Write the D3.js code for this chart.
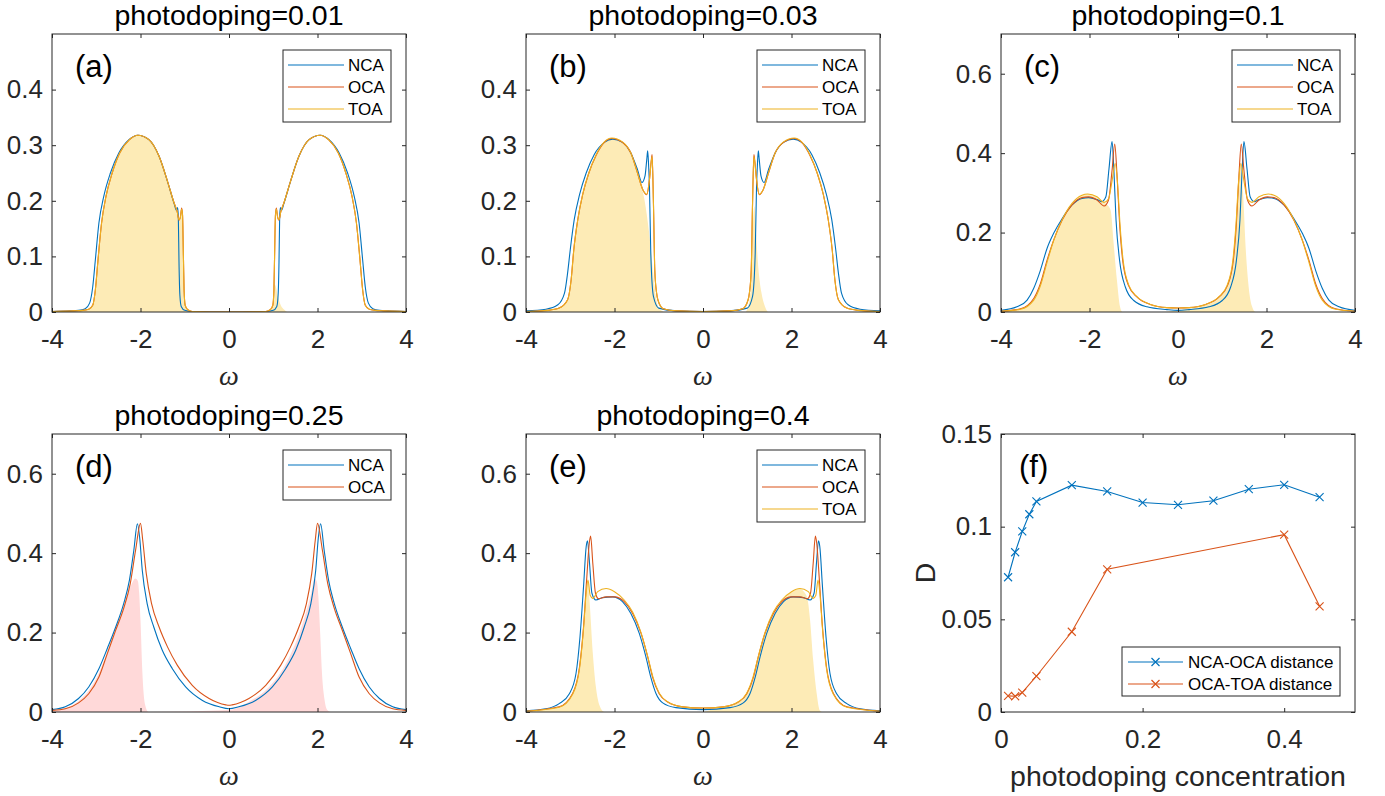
<!DOCTYPE html>
<html>
<head>
<meta charset="utf-8">
<script src="https://cdn.jsdelivr.net/npm/d3@7"></script>
<style>
  body { margin: 0; background: #fff; }
  svg { display: block; font-family: "Liberation Sans", Arial, sans-serif; }
</style>
</head>
<body>
<svg id="fig" width="1385" height="796"></svg>
<script>
// ---- data ----
const titles = ['photodoping=0.01', 'photodoping=0.03', 'photodoping=0.1',
  'photodoping=0.25', 'photodoping=0.4', ''];
const panelTags = ['(a)', '(b)', '(c)', '(d)', '(e)', '(f)'];
const seriesNames = ['NCA', 'OCA', 'TOA'];
const distNames = ['NCA-OCA distance', 'OCA-TOA distance'];

const omegaTicks = [-4, -2, 0, 2, 4];
const omegaLabels = ['-4', '-2', '0', '2', '4'];
const lowTicks = [0, 0.1, 0.2, 0.3, 0.4];
const lowLabels = ['0', '0.1', '0.2', '0.3', '0.4'];
const highTicks = [0, 0.2, 0.4, 0.6];
const highLabels = ['0', '0.2', '0.4', '0.6'];
const dopTicks = [0, 0.2, 0.4];
const dopLabels = ['0', '0.2', '0.4'];
const distTicks = [0, 0.05, 0.1, 0.15];
const distLabels = ['0', '0.05', '0.1', '0.15'];

// (a) photodoping 0.01 : [omega, A]
const ncaA = [[-4,0.001],[-3.6,0.002],[-3.4,0.003],[-3.25,0.006],[-3.15,0.016],[-3.08,0.045],[-3.02,0.094],[-2.94,0.16],[-2.83,0.208],[-2.68,0.25],[-2.49,0.286],[-2.26,0.31],[-2.06,0.318],[-1.81,0.31],[-1.58,0.28],[-1.39,0.235],[-1.24,0.195],[-1.19,0.183],[-1.16,0.188],[-1.145,0.17],[-1.13,0.09],[-1.11,0.03],[-1.08,0.01],[-1.0,0.003],[-0.85,0.001],[0,0],
  [0.85,0.001],[1.0,0.003],[1.08,0.01],[1.11,0.03],[1.13,0.09],[1.145,0.17],[1.16,0.188],[1.19,0.183],[1.24,0.195],[1.39,0.235],[1.58,0.28],[1.81,0.31],[2.06,0.318],[2.26,0.31],[2.49,0.286],[2.68,0.25],[2.83,0.208],[2.94,0.16],[3.02,0.094],[3.08,0.045],[3.15,0.016],[3.25,0.006],[3.4,0.003],[3.6,0.002],[4,0.001]];
const ocaA = [[-4,0.001],[-3.5,0.002],[-3.3,0.003],[-3.17,0.005],[-3.08,0.012],[-3.02,0.04],[-2.96,0.094],[-2.88,0.16],[-2.78,0.208],[-2.64,0.25],[-2.47,0.286],[-2.25,0.31],[-2.06,0.318],[-1.81,0.31],[-1.58,0.28],[-1.39,0.235],[-1.24,0.196],[-1.17,0.18],[-1.13,0.165],[-1.1,0.17],[-1.07,0.187],[-1.05,0.175],[-1.03,0.1],[-1.015,0.04],[-0.99,0.012],[-0.93,0.004],[-0.83,0.001],[0,0],
  [0.83,0.001],[0.93,0.004],[0.99,0.012],[1.015,0.04],[1.03,0.1],[1.05,0.175],[1.07,0.187],[1.1,0.17],[1.13,0.165],[1.17,0.18],[1.24,0.196],[1.39,0.235],[1.58,0.28],[1.81,0.31],[2.06,0.318],[2.25,0.31],[2.47,0.286],[2.64,0.25],[2.78,0.208],[2.88,0.16],[2.96,0.094],[3.02,0.04],[3.08,0.012],[3.17,0.005],[3.3,0.003],[3.5,0.002],[4,0.001]];
const toaA = [[-4,0.001],[-3.5,0.002],[-3.3,0.003],[-3.17,0.005],[-3.08,0.012],[-3.02,0.04],[-2.96,0.094],[-2.88,0.16],[-2.78,0.208],[-2.64,0.25],[-2.47,0.286],[-2.25,0.31],[-2.06,0.318],[-1.81,0.31],[-1.58,0.28],[-1.39,0.235],[-1.24,0.196],[-1.17,0.18],[-1.13,0.166],[-1.1,0.17],[-1.07,0.185],[-1.05,0.174],[-1.03,0.1],[-1.015,0.04],[-0.99,0.012],[-0.93,0.004],[-0.83,0.001],[0,0],
  [0.83,0.001],[0.93,0.004],[0.99,0.012],[1.015,0.04],[1.03,0.1],[1.05,0.174],[1.07,0.185],[1.1,0.17],[1.13,0.166],[1.17,0.18],[1.24,0.196],[1.39,0.235],[1.58,0.28],[1.81,0.31],[2.06,0.318],[2.25,0.31],[2.47,0.286],[2.64,0.25],[2.78,0.208],[2.88,0.16],[2.96,0.094],[3.02,0.04],[3.08,0.012],[3.17,0.005],[3.3,0.003],[3.5,0.002],[4,0.001]];
const occA = [[-4,0.001],[-3.5,0.002],[-3.3,0.003],[-3.17,0.005],[-3.08,0.012],[-3.02,0.04],[-2.96,0.094],[-2.88,0.16],[-2.78,0.208],[-2.64,0.25],[-2.47,0.286],[-2.25,0.31],[-2.06,0.318],[-1.81,0.31],[-1.58,0.28],[-1.39,0.235],[-1.24,0.196],[-1.17,0.18],[-1.13,0.166],[-1.1,0.17],[-1.07,0.185],[-1.05,0.174],[-1.03,0.1],[-1.015,0.04],[-0.99,0.012],[-0.93,0.004],[-0.83,0],
  [0.9,0],[1.0,0.015],[1.03,0.05],[1.06,0.045],[1.1,0.03],[1.17,0.012],[1.25,0.004],[1.32,0],[4,0]];

// (b) photodoping 0.03
const ncaB = [[-4,0.002],[-3.55,0.005],[-3.28,0.013],[-3.13,0.034],[-3.06,0.07],[-3.0,0.112],[-2.91,0.166],[-2.79,0.211],[-2.64,0.25],[-2.46,0.283],[-2.23,0.305],[-2.04,0.311],[-1.82,0.305],[-1.63,0.286],[-1.48,0.256],[-1.38,0.233],[-1.31,0.245],[-1.27,0.275],[-1.25,0.29],[-1.23,0.265],[-1.21,0.226],[-1.18,0.106],[-1.12,0.028],[-1.0,0.007],[-0.6,0.002],[0,0.001],
  [0.6,0.002],[1.0,0.007],[1.12,0.028],[1.18,0.106],[1.21,0.226],[1.23,0.265],[1.25,0.29],[1.27,0.275],[1.31,0.245],[1.38,0.233],[1.48,0.256],[1.63,0.286],[1.82,0.305],[2.04,0.311],[2.23,0.305],[2.46,0.283],[2.64,0.25],[2.79,0.211],[2.91,0.166],[3.0,0.112],[3.06,0.07],[3.13,0.034],[3.28,0.013],[3.55,0.005],[4,0.002]];
const ocaB = [[-4,0.001],[-3.5,0.003],[-3.25,0.007],[-3.06,0.022],[-2.98,0.058],[-2.92,0.112],[-2.83,0.166],[-2.72,0.211],[-2.58,0.25],[-2.42,0.281],[-2.23,0.305],[-2.06,0.312],[-1.82,0.305],[-1.63,0.286],[-1.48,0.25],[-1.36,0.22],[-1.27,0.211],[-1.21,0.238],[-1.17,0.272],[-1.15,0.283],[-1.12,0.196],[-1.09,0.076],[-1.05,0.035],[-1.02,0.022],[-0.9,0.006],[-0.6,0.002],[0,0.001],
  [0.6,0.002],[0.9,0.006],[1.02,0.022],[1.05,0.035],[1.09,0.076],[1.12,0.196],[1.15,0.283],[1.17,0.272],[1.21,0.238],[1.27,0.211],[1.36,0.22],[1.48,0.25],[1.63,0.286],[1.82,0.305],[2.06,0.312],[2.23,0.305],[2.42,0.281],[2.58,0.25],[2.72,0.211],[2.83,0.166],[2.92,0.112],[2.98,0.058],[3.06,0.022],[3.25,0.007],[3.5,0.003],[4,0.001]];
const toaB = [[-4,0.001],[-3.5,0.003],[-3.25,0.007],[-3.06,0.022],[-2.98,0.058],[-2.92,0.112],[-2.83,0.166],[-2.72,0.211],[-2.58,0.25],[-2.42,0.282],[-2.23,0.306],[-2.06,0.313],[-1.82,0.306],[-1.63,0.286],[-1.48,0.25],[-1.36,0.22],[-1.27,0.212],[-1.21,0.238],[-1.17,0.27],[-1.15,0.28],[-1.12,0.196],[-1.09,0.076],[-1.05,0.035],[-1.02,0.022],[-0.9,0.006],[-0.6,0.002],[0,0.001],
  [0.6,0.002],[0.9,0.006],[1.02,0.022],[1.05,0.035],[1.09,0.076],[1.12,0.196],[1.15,0.28],[1.17,0.27],[1.21,0.238],[1.27,0.212],[1.36,0.22],[1.48,0.25],[1.63,0.286],[1.82,0.306],[2.06,0.313],[2.23,0.306],[2.42,0.282],[2.58,0.25],[2.72,0.211],[2.83,0.166],[2.92,0.112],[2.98,0.058],[3.06,0.022],[3.25,0.007],[3.5,0.003],[4,0.001]];
const occB = [[-4,0.001],[-3.5,0.003],[-3.25,0.007],[-3.06,0.022],[-2.98,0.058],[-2.92,0.112],[-2.83,0.166],[-2.72,0.211],[-2.58,0.25],[-2.42,0.282],[-2.23,0.306],[-2.06,0.313],[-1.82,0.306],[-1.63,0.286],[-1.48,0.25],[-1.4,0.228],[-1.33,0.205],[-1.27,0.175],[-1.2,0.13],[-1.15,0.09],[-1.1,0.05],[-1.05,0.02],[-0.98,0.006],[-0.85,0],
  [0.95,0],[1.05,0.02],[1.1,0.08],[1.13,0.16],[1.16,0.19],[1.2,0.14],[1.25,0.08],[1.32,0.035],[1.4,0.01],[1.48,0],[4,0]];

// (c) photodoping 0.1
const ncaC = [[-4,0.004],[-3.64,0.013],[-3.41,0.03],[-3.26,0.06],[-3.11,0.105],[-2.96,0.16],[-2.81,0.198],[-2.62,0.235],[-2.4,0.269],[-2.17,0.286],[-2.02,0.288],[-1.83,0.283],[-1.72,0.278],[-1.63,0.29],[-1.56,0.36],[-1.49,0.429],[-1.45,0.36],[-1.4,0.231],[-1.32,0.13],[-1.19,0.063],[-1.0,0.029],[-0.7,0.013],[-0.25,0.006],[0,0.004],
  [0.25,0.006],[0.7,0.013],[1.0,0.029],[1.19,0.063],[1.32,0.13],[1.4,0.231],[1.45,0.36],[1.49,0.429],[1.56,0.36],[1.63,0.29],[1.72,0.278],[1.83,0.283],[2.02,0.288],[2.17,0.286],[2.4,0.269],[2.62,0.235],[2.81,0.198],[2.96,0.16],[3.11,0.105],[3.26,0.06],[3.41,0.03],[3.64,0.013],[4,0.004]];
const ocaC = [[-4,0.002],[-3.56,0.008],[-3.26,0.034],[-3.11,0.071],[-2.96,0.13],[-2.81,0.181],[-2.62,0.231],[-2.4,0.269],[-2.17,0.288],[-2.02,0.29],[-1.83,0.282],[-1.67,0.267],[-1.57,0.282],[-1.49,0.357],[-1.43,0.423],[-1.38,0.349],[-1.32,0.223],[-1.25,0.13],[-1.12,0.067],[-0.93,0.038],[-0.63,0.019],[-0.25,0.011],[0,0.01],
  [0.25,0.011],[0.63,0.019],[0.93,0.038],[1.12,0.067],[1.25,0.13],[1.32,0.223],[1.38,0.349],[1.43,0.423],[1.49,0.357],[1.57,0.282],[1.67,0.267],[1.83,0.282],[2.02,0.29],[2.17,0.288],[2.4,0.269],[2.62,0.231],[2.81,0.181],[2.96,0.13],[3.11,0.071],[3.26,0.034],[3.56,0.008],[4,0.002]];
const toaC = [[-4,0.002],[-3.56,0.007],[-3.26,0.03],[-3.11,0.066],[-2.96,0.125],[-2.81,0.18],[-2.62,0.232],[-2.4,0.273],[-2.17,0.294],[-2.04,0.297],[-1.83,0.29],[-1.67,0.276],[-1.57,0.285],[-1.49,0.33],[-1.42,0.374],[-1.37,0.33],[-1.31,0.22],[-1.24,0.13],[-1.11,0.067],[-0.92,0.038],[-0.62,0.019],[-0.25,0.011],[0,0.01],
  [0.25,0.011],[0.62,0.019],[0.92,0.038],[1.11,0.067],[1.24,0.13],[1.31,0.22],[1.37,0.33],[1.42,0.374],[1.49,0.33],[1.57,0.285],[1.67,0.276],[1.83,0.29],[2.04,0.297],[2.17,0.294],[2.4,0.273],[2.62,0.232],[2.81,0.18],[2.96,0.125],[3.11,0.066],[3.26,0.03],[3.56,0.007],[4,0.002]];
const occC = [[-4,0.002],[-3.56,0.007],[-3.26,0.03],[-3.11,0.066],[-2.96,0.125],[-2.81,0.18],[-2.62,0.232],[-2.4,0.273],[-2.17,0.294],[-2.04,0.297],[-1.83,0.29],[-1.67,0.276],[-1.6,0.27],[-1.52,0.255],[-1.46,0.18],[-1.38,0.08],[-1.31,0.013],[-1.26,0],
  [-0.5,0],[0,0.004],[0.25,0.008],[0.62,0.017],[0.92,0.036],[1.11,0.065],[1.24,0.128],[1.31,0.215],[1.37,0.325],[1.42,0.37],[1.47,0.3],[1.53,0.16],[1.6,0.06],[1.67,0.015],[1.75,0],[4,0]];

// (d) photodoping 0.25 (no TOA)
const ncaD = [[-4,0.006],[-3.7,0.013],[-3.4,0.034],[-3.17,0.063],[-2.94,0.109],[-2.75,0.16],[-2.56,0.214],[-2.38,0.273],[-2.25,0.332],[-2.15,0.408],[-2.07,0.474],[-2.02,0.44],[-1.96,0.357],[-1.85,0.273],[-1.7,0.214],[-1.51,0.156],[-1.28,0.109],[-0.98,0.063],[-0.6,0.029],[-0.22,0.013],[0,0.008],
  [0.22,0.013],[0.6,0.029],[0.98,0.063],[1.28,0.109],[1.51,0.156],[1.7,0.214],[1.85,0.273],[1.96,0.357],[2.02,0.44],[2.07,0.474],[2.15,0.408],[2.25,0.332],[2.38,0.273],[2.56,0.214],[2.75,0.16],[2.94,0.109],[3.17,0.063],[3.4,0.034],[3.7,0.013],[4,0.006]];
const ocaD = [[-4,0.004],[-3.7,0.008],[-3.4,0.023],[-3.17,0.046],[-2.94,0.088],[-2.75,0.147],[-2.56,0.206],[-2.38,0.261],[-2.23,0.324],[-2.11,0.408],[-2.0,0.475],[-1.95,0.433],[-1.87,0.349],[-1.75,0.273],[-1.58,0.214],[-1.39,0.164],[-1.17,0.118],[-0.83,0.067],[-0.45,0.034],[-0.07,0.018],[0,0.017],
  [0.07,0.018],[0.45,0.034],[0.83,0.067],[1.17,0.118],[1.39,0.164],[1.58,0.214],[1.75,0.273],[1.87,0.349],[1.95,0.433],[2.0,0.475],[2.11,0.408],[2.23,0.324],[2.38,0.261],[2.56,0.206],[2.75,0.147],[2.94,0.088],[3.17,0.046],[3.4,0.023],[3.7,0.008],[4,0.004]];
const occD = [[-4,0.005],[-3.7,0.01],[-3.4,0.028],[-3.17,0.054],[-2.94,0.098],[-2.75,0.153],[-2.56,0.21],[-2.38,0.265],[-2.3,0.295],[-2.2,0.322],[-2.12,0.336],[-2.06,0.33],[-2.03,0.3],[-2.0,0.231],[-1.96,0.105],[-1.9,0.02],[-1.82,0],
  [0,0.005],[0.45,0.026],[0.83,0.055],[1.17,0.1],[1.39,0.145],[1.58,0.195],[1.75,0.255],[1.85,0.295],[1.93,0.335],[1.98,0.33],[2.02,0.29],[2.06,0.2],[2.1,0.1],[2.16,0.03],[2.22,0.005],[2.3,0],[4,0]];

// (e) photodoping 0.4
const ncaE = [[-4,0.003],[-3.55,0.008],[-3.25,0.021],[-3.02,0.046],[-2.87,0.097],[-2.78,0.189],[-2.7,0.315],[-2.64,0.416],[-2.61,0.431],[-2.57,0.383],[-2.51,0.299],[-2.42,0.282],[-2.27,0.288],[-2.04,0.29],[-1.82,0.278],[-1.63,0.248],[-1.44,0.198],[-1.29,0.139],[-1.18,0.088],[-1.06,0.046],[-0.91,0.023],[-0.61,0.011],[0,0.006],
  [0.61,0.011],[0.91,0.023],[1.06,0.046],[1.18,0.088],[1.29,0.139],[1.44,0.198],[1.63,0.248],[1.82,0.278],[2.04,0.29],[2.27,0.288],[2.42,0.282],[2.51,0.299],[2.57,0.383],[2.61,0.431],[2.64,0.416],[2.7,0.315],[2.78,0.189],[2.87,0.097],[3.02,0.046],[3.25,0.021],[3.55,0.008],[4,0.003]];
const ocaE = [[-4,0.002],[-3.25,0.013],[-2.95,0.046],[-2.79,0.114],[-2.7,0.214],[-2.63,0.332],[-2.57,0.425],[-2.54,0.443],[-2.49,0.374],[-2.43,0.299],[-2.36,0.285],[-2.19,0.29],[-2.0,0.29],[-1.78,0.278],[-1.59,0.248],[-1.4,0.198],[-1.25,0.139],[-1.14,0.088],[-0.99,0.046],[-0.8,0.025],[-0.46,0.013],[0,0.01],
  [0.46,0.013],[0.8,0.025],[0.99,0.046],[1.14,0.088],[1.25,0.139],[1.4,0.198],[1.59,0.248],[1.78,0.278],[2.0,0.29],[2.19,0.29],[2.36,0.285],[2.43,0.299],[2.49,0.374],[2.54,0.443],[2.57,0.425],[2.63,0.332],[2.7,0.214],[2.79,0.114],[2.95,0.046],[3.25,0.013],[4,0.002]];
const toaE = [[-4,0.002],[-3.25,0.012],[-2.95,0.044],[-2.79,0.11],[-2.7,0.21],[-2.64,0.3],[-2.6,0.332],[-2.55,0.294],[-2.49,0.286],[-2.38,0.303],[-2.19,0.311],[-2.0,0.303],[-1.78,0.282],[-1.59,0.252],[-1.4,0.2],[-1.25,0.14],[-1.13,0.088],[-0.98,0.046],[-0.79,0.025],[-0.46,0.013],[0,0.01],
  [0.46,0.013],[0.79,0.025],[0.98,0.046],[1.13,0.088],[1.25,0.14],[1.4,0.2],[1.59,0.252],[1.78,0.282],[2.0,0.303],[2.19,0.311],[2.38,0.303],[2.49,0.286],[2.55,0.294],[2.6,0.332],[2.64,0.3],[2.7,0.21],[2.79,0.11],[2.95,0.044],[3.25,0.012],[4,0.002]];
const occE = [[-4,0.002],[-3.25,0.012],[-2.95,0.044],[-2.79,0.11],[-2.7,0.21],[-2.64,0.3],[-2.6,0.33],[-2.57,0.29],[-2.49,0.147],[-2.42,0.063],[-2.34,0.017],[-2.23,0],
  [0,0],[0.2,0.006],[0.46,0.012],[0.79,0.024],[0.98,0.045],[1.13,0.087],[1.25,0.138],[1.4,0.198],[1.59,0.25],[1.78,0.28],[2.0,0.302],[2.19,0.31],[2.3,0.3],[2.36,0.285],[2.42,0.231],[2.49,0.13],[2.57,0.046],[2.64,0.004],[2.7,0],[4,0]];

// (f) distances vs photodoping concentration
const dopNcaOca = [0.01, 0.02, 0.03, 0.04, 0.05, 0.1, 0.15, 0.2, 0.25, 0.3, 0.35, 0.4, 0.45];
const distNcaOca = [0.0727, 0.0862, 0.0974, 0.1067, 0.1136, 0.1224, 0.119, 0.113, 0.1118, 0.114, 0.1202, 0.1226, 0.1159];
const dopOcaToa = [0.01, 0.02, 0.03, 0.05, 0.1, 0.15, 0.4, 0.45];
const distOcaToa = [0.0087, 0.0085, 0.0105, 0.0193, 0.0433, 0.077, 0.0957, 0.057];

// ---- layout / style ----
const svg = d3.select('#fig');
const W = 354, H = 278;
const cols = [52, 526, 1001], rows = [34, 434];
const colors = ['#0072bd', '#d95319', '#edb120'];
const axisCol = '#262626';
const FONT = '"Liberation Sans", Arial, sans-serif';

const spectra = [
  {lines: [ncaA, ocaA, toaA], occ: occA, fill: '#fdebb6', ymax: 0.5, yt: lowTicks, yl: lowLabels},
  {lines: [ncaB, ocaB, toaB], occ: occB, fill: '#fdebb6', ymax: 0.5, yt: lowTicks, yl: lowLabels},
  {lines: [ncaC, ocaC, toaC], occ: occC, fill: '#fdebb6', ymax: 0.7, yt: highTicks, yl: highLabels},
  {lines: [ncaD, ocaD], occ: occD, fill: '#ffd9d9', ymax: 0.7, yt: highTicks, yl: highLabels},
  {lines: [ncaE, ocaE, toaE], occ: occE, fill: '#fdebb6', ymax: 0.7, yt: highTicks, yl: highLabels}
];

function frame(g, x, y, xt, xl, yt, yl) {
  const fmt = arr => (d, i) => arr[i];
  const style = a => a.call(s => s.select('.domain').remove())
    .attr('font-size', 26).attr('font-family', FONT)
    .call(s => s.selectAll('line').attr('stroke', axisCol))
    .call(s => s.selectAll('text').attr('fill', axisCol));
  g.append('g').attr('transform', `translate(0,${H})`)
    .call(d3.axisBottom(x).tickValues(xt).tickFormat(fmt(xl)).tickSizeInner(-4).tickSizeOuter(0).tickPadding(18))
    .call(style);
  g.append('g')
    .call(d3.axisLeft(y).tickValues(yt).tickFormat(fmt(yl)).tickSizeInner(-4).tickSizeOuter(0).tickPadding(9))
    .call(style);
  g.append('g')
    .call(d3.axisTop(x).tickValues(xt).tickFormat('').tickSizeInner(-4).tickSizeOuter(0))
    .call(style);
  g.append('g').attr('transform', `translate(${W},0)`)
    .call(d3.axisRight(y).tickValues(yt).tickFormat('').tickSizeInner(-4).tickSizeOuter(0))
    .call(style);
  g.append('rect').attr('width', W).attr('height', H)
    .attr('fill', 'none').attr('stroke', axisCol).attr('stroke-width', 1);
}

function legend(g, names, opts) {
  const lg = g.append('g').attr('transform', `translate(${opts.x},${opts.y})`);
  lg.append('rect').attr('width', opts.w).attr('height', opts.h)
    .attr('fill', '#fff').attr('stroke', axisCol).attr('stroke-width', 1);
  names.forEach((n, i) => {
    const cy = opts.row0 + i * 22;
    lg.append('line').attr('x1', opts.l0).attr('x2', opts.l1).attr('y1', cy).attr('y2', cy)
      .attr('stroke', colors[i]).attr('stroke-width', 1.2);
    if (opts.marker) {
      const mx = (opts.l0 + opts.l1) / 2;
      lg.append('path').attr('d', `M${mx-4},${cy-4}L${mx+4},${cy+4}M${mx-4},${cy+4}L${mx+4},${cy-4}`)
        .attr('stroke', colors[i]).attr('stroke-width', 1.2);
    }
    lg.append('text').attr('x', opts.tx).attr('y', cy).attr('dy', '0.35em')
      .attr('font-size', opts.fs).attr('fill', '#000').text(n);
  });
}

spectra.forEach((p, k) => {
  const left = cols[k % 3], top = rows[Math.floor(k / 3)];
  const g = svg.append('g').attr('transform', `translate(${left},${top})`);
  const x = d3.scaleLinear().domain([-4, 4]).range([0, W]);
  const y = d3.scaleLinear().domain([0, p.ymax]).range([H, 0]);

  g.append('clipPath').attr('id', 'clip' + k)
    .append('rect').attr('width', W).attr('height', H);
  const plot = g.append('g').attr('clip-path', `url(#clip${k})`);

  plot.append('path').datum(p.occ)
    .attr('fill', p.fill)
    .attr('d', d3.area().x(d => x(d[0])).y0(H).y1(d => y(d[1])).curve(d3.curveMonotoneX));

  const line = d3.line().x(d => x(d[0])).y(d => y(d[1])).curve(d3.curveMonotoneX);
  p.lines.forEach((s, i) => {
    plot.append('path').datum(s).attr('fill', 'none')
      .attr('stroke', colors[i]).attr('stroke-width', 1.1).attr('d', line);
  });

  frame(g, x, y, omegaTicks, omegaLabels, p.yt, p.yl);

  g.append('text').attr('x', W / 2).attr('y', -9).attr('text-anchor', 'middle')
    .attr('font-size', 28.5).attr('fill', '#000').text(titles[k]);
  g.append('text').attr('x', W / 2).attr('y', H + 73).attr('text-anchor', 'middle')
    .attr('font-family', '"Liberation Serif", serif').attr('font-style', 'italic')
    .attr('font-size', 28).attr('fill', axisCol).text('\u03C9');
  g.append('text').attr('x', 23).attr('y', 43)
    .attr('font-size', 31).attr('fill', '#000').text(panelTags[k]);

  const names = seriesNames.slice(0, p.lines.length);
  legend(g, names, {x: W - 123, y: 16, w: 108, h: 6 + names.length * 22,
    row0: 15, l0: 5, l1: 61, tx: 65, fs: 17});
});

// ---- (f) ----
{
  const g = svg.append('g').attr('transform', `translate(${cols[2]},${rows[1]})`);
  const x = d3.scaleLinear().domain([0, 0.5]).range([0, W]);
  const y = d3.scaleLinear().domain([0, 0.15]).range([H, 0]);
  const sets = [[dopNcaOca, distNcaOca], [dopOcaToa, distOcaToa]];
  const line = d3.line().x(d => x(d[0])).y(d => y(d[1]));
  sets.forEach(([xs, ys], i) => {
    const pts = xs.map((v, j) => [v, ys[j]]);
    g.append('path').datum(pts).attr('fill', 'none')
      .attr('stroke', colors[i]).attr('stroke-width', 1.1).attr('d', line);
    g.selectAll(null).data(pts).enter().append('path')
      .attr('d', d => {
        const cx = x(d[0]), cy = y(d[1]);
        return `M${cx-4},${cy-4}L${cx+4},${cy+4}M${cx-4},${cy+4}L${cx+4},${cy-4}`;
      })
      .attr('stroke', colors[i]).attr('stroke-width', 1.1);
  });

  frame(g, x, y, dopTicks, dopLabels, distTicks, distLabels);

  g.append('text').attr('x', W / 2).attr('y', H + 74).attr('text-anchor', 'middle')
    .attr('font-size', 28.5).attr('fill', axisCol).text('photodoping concentration');
  g.append('text').attr('transform', `translate(-66,${H / 2}) rotate(-90)`)
    .attr('text-anchor', 'middle').attr('font-size', 28.5).attr('fill', axisCol).text('D');
  g.append('text').attr('x', 18).attr('y', 43)
    .attr('font-size', 31).attr('fill', '#000').text(panelTags[5]);

  legend(g, distNames, {x: 121, y: 213, w: 218, h: 49,
    row0: 15, l0: 6, l1: 61, tx: 66, fs: 17, marker: true});
}
</script>
</body>
</html>
